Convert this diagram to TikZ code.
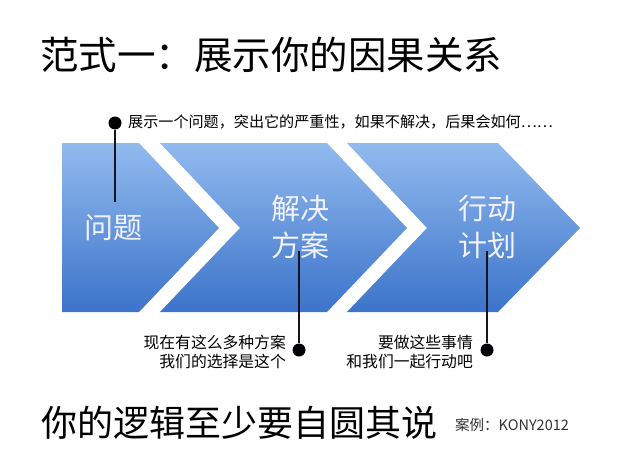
\documentclass[tikz,border=0pt]{standalone}
\usepackage{fontspec}
\setmainfont{Noto Sans CJK SC}
\definecolor{chevtop}{RGB}{146,186,238}
\definecolor{chevbot}{RGB}{60,116,202}
\definecolor{leadc}{RGB}{20,20,35}
\begin{document}
\begin{tikzpicture}[x=1pt,y=-1pt,
  chev/.style={top color=chevtop,bottom color=chevbot,draw=none},
  lbl/.style={text=white!95!blue,font=\fontsize{29}{37}\selectfont,align=center,inner sep=0pt},
  note/.style={text=black,font=\fontsize{15.8}{19}\selectfont,inner sep=0pt},
  dotc/.style={circle,fill=black,minimum size=13pt,inner sep=0pt},
  lead/.style={line width=1.8pt,draw=leadc}]
\path[use as bounding box,fill=white] (0,0) rectangle (640,466);
% title
\node[anchor=west,inner sep=0pt,font=\fontsize{38.5}{40}\selectfont] (title) at (40,55) {范式一：展示你的因果关系};
% chevrons
\shade[chev] (62,143) -- (139,143) -- (219,228) -- (139,312) -- (62,312) -- cycle;
\shade[chev] (160,143) -- (327,143) -- (407,228) -- (327,312) -- (160,312) -- (240,228) -- cycle;
\shade[chev] (347,143) -- (498,143) -- (580,228) -- (498,312) -- (347,312) -- (427,228) -- cycle;
% labels
\node[lbl] (l1) at (113,228) {问题};
\node[lbl] (l2) at (300,227) {解决\\方案};
\node[lbl] (l3) at (487,227) {行动\\计划};
% top note
\node[dotc] (d1) at (115,123) {};
\coordinate (e1) at (115,202);
\draw[lead] (d1) -- (e1);
\node[note,anchor=west,font=\fontsize{15.1}{19}\selectfont] (n1) at (128,122) {展示一个问题，突出它的严重性，如果不解决，后果会如何……};
% bottom notes
\node[dotc] (d2) at (299,350) {};
\coordinate (e2) at (299,251);
\draw[lead] (d2) -- (e2);
\node[note,anchor=east,align=right] (n2) at (286,352) {现在有这么多种方案\\我们的选择是这个};
\node[dotc] (d3) at (487,350) {};
\coordinate (e3) at (487,251);
\draw[lead] (d3) -- (e3);
\node[note,anchor=east,align=right] (n3) at (473,352) {要做这些事情\\和我们一起行动吧};
% bottom line
\node[anchor=west,inner sep=0pt,font=\fontsize{36}{38}\selectfont] (foot) at (41,423) {你的逻辑至少要自圆其说};
\node[anchor=west,inner sep=0pt,text=black!80,font=\fontsize{14.5}{17}\selectfont] (case) at (455,425) {案例：KONY2012};
\end{tikzpicture}
\end{document}
